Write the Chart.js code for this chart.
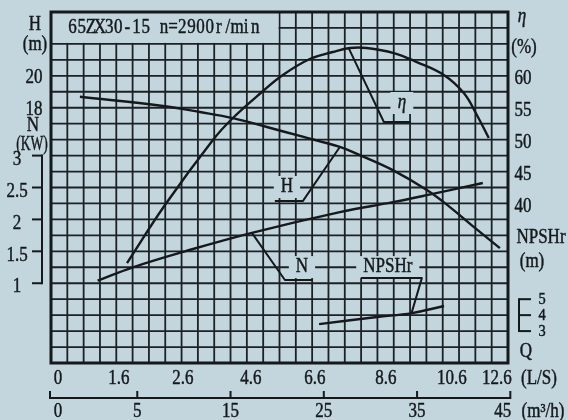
<!DOCTYPE html>
<html>
<head>
<meta charset="utf-8">
<script src="https://cdn.jsdelivr.net/npm/chart.js@4.4.1/dist/chart.umd.min.js"></script>
<style>
html, body { margin: 0; padding: 0; background: #c3d6de; }
#wrap { width: 568px; height: 420px; position: relative; }
</style>
</head>
<body>
<div id="wrap"><canvas id="pump"></canvas></div>
<script>
// 65ZX30-15 pump curves
// Q is in m3/h everywhere
// ================================================================================
let h_q = [-1.15, 7.75, 11.71, 15.25, 18.9, 22.43, 26.72, 28.86, 32.4, 36.05, 38.52, 40.97, 43.88];
let h_val = [18.69, 18.11, 17.73, 17.35, 16.79, 16.23, 15.54, 15.03, 14.09, 12.84, 11.77, 10.58, 9.2];

let eta_q = [3.9, 7.97, 13.11, 15.25, 18.36, 20.61, 23.5, 25.97, 27.79, 29.61, 32.51, 34.97, 37.87, 40.01, 41.41, 42.69];
let eta_val = [30.66, 39.75, 49.94, 53.39, 57.46, 60.13, 62.63, 63.73, 64.36, 64.36, 63.57, 62.16, 60.13, 57.3, 53.86, 50.25];

let n_q = [0.75, 4.53, 10.11, 17.29, 26.72, 32.4, 36.05, 42.05];
let n_val = [1.04, 1.25, 1.5, 1.79, 2.115, 2.27, 2.38, 2.57];

let npsh_q = [24.49, 30.71, 34.46, 37.89];
let npsh_val = [3.44, 3.88, 4.13, 4.57];

// axis labels
let h_ticks = [20, 18];
let n_ticks = [3, 2.5, 2, 1.5, 1];
let eta_ticks = [60, 55, 50, 45, 40];
let npsh_ticks = [5, 4, 3];
let q_ls_labels = ['0', '1.6', '2.6', '4.6', '6.6', '8.6', '10.6', '12.6'];
let q_ls_at = [-3.5, 3.03, 9.89, 17.18, 24.04, 31.65, 38.73, 43.55]; // where the sheet prints them (m3/h)
let q_mh_ticks = [5, 15, 25, 35, 45];

let title = '65ZX30-15 n=2900r/min';

const ink = '#15191c';
const paper = '#c3d6de';

let pts = (xs, ys) => xs.map((x, i) => ({x: x, y: ys[i]}));

// curve tags with their leader lines, in the units of each curve's axis
let curve_tags = [
	{text: 'H', axis: 'yH', at: [21.05, 13.03], path: [[19.75, 12.15], [22.75, 12.15], [26.72, 15.54]]},
	{text: 'N', axis: 'yN', at: [22.66, 1.253], path: [[17.29, 1.79], [20.83, 1.05], [23.83, 1.05]]},
	{text: 'NPSHr', axis: 'yP', at: [31.86, 7.01], path: [[28.97, 6.32], [35.51, 6.32], [34.44, 4.19]]},
	{text: 'η', axis: 'yE', at: [33.37, 55.74], path: [[27.68, 64.3], [31.44, 52.76], [34.33, 52.76]], italic: true}
];

function put_text(ctx, str, x, y, size, opts) {
	opts = opts || {};
	ctx.save();
	ctx.font = (opts.italic ? 'italic ' : '') + size + 'px "Liberation Serif", serif';
	ctx.fillStyle = ink;
	ctx.strokeStyle = ink;
	ctx.lineWidth = 0.45;
	ctx.textAlign = opts.align || 'center';
	ctx.textBaseline = 'middle';
	ctx.translate(x, y);
	ctx.scale(opts.sx || 0.85, 1);
	ctx.fillText(str, 0, 0);
	ctx.strokeText(str, 0, 0);
	ctx.restore();
}

function line(ctx, x1, y1, x2, y2, w) {
	ctx.lineWidth = w;
	ctx.beginPath();
	ctx.moveTo(x1, y1);
	ctx.lineTo(x2, y2);
	ctx.stroke();
}

let sheet = {
	id: 'sheet',
	beforeDatasetsDraw(chart) {
		let ctx = chart.ctx, a = chart.chartArea;
		let cols = 28, rows = 22;
		let cw = (a.right - a.left) / cols, rh = (a.bottom - a.top) / rows;
		ctx.save();
		ctx.strokeStyle = '#1c2124';
		for (let i = 1; i < cols; i++) line(ctx, a.left + i * cw, a.top, a.left + i * cw, a.bottom, 1.8);
		for (let j = 1; j < rows; j++) line(ctx, a.left, a.top + j * rh, a.right, a.top + j * rh, 1.8);

		// title box
		ctx.fillStyle = paper;
		ctx.fillRect(a.left + 1, a.top + 1, 14 * cw - 2, 2 * rh - 2);
		let x0 = a.left + 17, step = 9.14;
		for (let i = 0; i < title.length; i++) {
			put_text(ctx, title[i], x0 + step * i + step / 2, a.top + 16, 20, {sx: 0.85});
		}

		// clear space behind the curve tags
		ctx.font = '20px "Liberation Serif", serif';
		curve_tags.forEach(t => {
			let x = chart.scales.x.getPixelForValue(t.at[0]);
			let y = chart.scales[t.axis].getPixelForValue(t.at[1]);
			let w = ctx.measureText(t.text).width * 0.85 + 14;
			ctx.fillStyle = paper;
			ctx.fillRect(x - w / 2, y - 11, w, 22);
		});

		ctx.strokeStyle = ink;
		ctx.lineWidth = 3;
		ctx.strokeRect(a.left, a.top, a.right - a.left, a.bottom - a.top);
		ctx.restore();
	},
	afterDatasetsDraw(chart) {
		let ctx = chart.ctx, a = chart.chartArea, s = chart.scales;
		ctx.save();
		ctx.strokeStyle = ink;
		ctx.lineJoin = 'round';
		curve_tags.forEach(t => {
			let y_s = s[t.axis];
			ctx.lineWidth = 2;
			ctx.beginPath();
			t.path.forEach((p, i) => {
				let px = s.x.getPixelForValue(p[0]), py = y_s.getPixelForValue(p[1]);
				if (i === 0) ctx.moveTo(px, py); else ctx.lineTo(px, py);
			});
			ctx.stroke();
			put_text(ctx, t.text, s.x.getPixelForValue(t.at[0]), y_s.getPixelForValue(t.at[1]), 20, {italic: t.italic});
		});

		// left side: H and N
		put_text(ctx, 'H', a.left - 16, 25, 20);
		put_text(ctx, '(m)', a.left - 16, 45, 20);
		h_ticks.forEach(v => put_text(ctx, String(v), a.left - 17, s.yH.getPixelForValue(v) + 2, 20));
		put_text(ctx, 'N', a.left - 18, 126, 20);
		put_text(ctx, '(KW)', a.left - 19, 145, 20, {sx: 0.68});
		let n_top = s.yN.getPixelForValue(n_ticks[0]);
		let n_bot = s.yN.getPixelForValue(n_ticks[n_ticks.length - 1]);
		line(ctx, a.left - 9, n_top - 1, a.left - 9, n_bot + 1, 2);
		n_ticks.forEach(v => {
			let y = s.yN.getPixelForValue(v);
			line(ctx, a.left - 19, y, a.left - 9, y, 2);
			put_text(ctx, String(v), 17, y + 4, 20);
		});

		// right side: eta and NPSHr
		put_text(ctx, 'η', a.right + 14, 17, 20, {italic: true});
		put_text(ctx, '(%)', a.right + 16, 48, 20);
		eta_ticks.forEach(v => put_text(ctx, String(v), a.right + 15, s.yE.getPixelForValue(v) + 3, 20));
		put_text(ctx, 'NPSHr', a.right + 33, 238, 20);
		put_text(ctx, '(m)', a.right + 24, 262, 20);
		let p_top = s.yP.getPixelForValue(npsh_ticks[0]);
		let p_bot = s.yP.getPixelForValue(npsh_ticks[npsh_ticks.length - 1]);
		line(ctx, a.right + 11, p_top - 1, a.right + 11, p_bot + 1, 2);
		npsh_ticks.forEach(v => {
			let y = s.yP.getPixelForValue(v);
			line(ctx, a.right + 11, y, a.right + 23, y, 2);
			put_text(ctx, String(v), a.right + 34, y + 1, 16, {sx: 0.9});
		});

		// bottom: Q in L/S and m3/h
		put_text(ctx, 'Q', a.right + 18, 352, 20);
		q_ls_labels.forEach((t, i) => put_text(ctx, t, s.x.getPixelForValue(q_ls_at[i]), a.bottom + 16, 20));
		put_text(ctx, '(L/S)', a.right + 31, a.bottom + 16, 20);
		let ay = a.bottom + 35;
		let x_end = s.x.getPixelForValue(q_mh_ticks[q_mh_ticks.length - 1]);
		line(ctx, a.left - 1, ay, x_end, ay, 2);
		line(ctx, a.left - 1, ay - 7, a.left - 1, ay + 1, 2);
		put_text(ctx, '0', a.left + 7, ay + 14, 20);
		q_mh_ticks.forEach((v, i) => {
			let x = s.x.getPixelForValue(v);
			line(ctx, x, ay - 7, x, ay + 1, 2);
			let last = i === q_mh_ticks.length - 1;
			put_text(ctx, String(v), last ? x + 1 : x, ay + 14, 20, {align: last ? 'right' : 'center'});
		});
		put_text(ctx, '(m³/h)', a.right + 35, ay + 14, 20);
		ctx.restore();
	}
};

let curve_style = {
	showLine: true,
	borderColor: ink,
	borderWidth: 2.4,
	pointRadius: 0,
	tension: 0.4,
	fill: false
};

let pump_chart = new Chart(document.getElementById('pump'), {
	type: 'scatter',
	data: {
		datasets: [
			Object.assign({label: 'H', data: pts(h_q, h_val), yAxisID: 'yH'}, curve_style),
			Object.assign({label: 'η', data: pts(eta_q, eta_val), yAxisID: 'yE'}, curve_style),
			Object.assign({label: 'N', data: pts(n_q, n_val), yAxisID: 'yN'}, curve_style),
			Object.assign({label: 'NPSHr', data: pts(npsh_q, npsh_val), yAxisID: 'yP'}, curve_style)
		]
	},
	options: {
		responsive: true,
		maintainAspectRatio: false,
		animation: false,
		layout: {padding: {left: 51, right: 60, top: 12, bottom: 57}},
		plugins: {legend: {display: false}, tooltip: {enabled: false}},
		scales: {
			x: {type: 'linear', min: -4.25, max: 44.75, display: false},
			yH: {type: 'linear', min: 2, max: 24, display: false},
			yN: {type: 'linear', min: -0.25, max: 5.25, display: false},
			yE: {type: 'linear', min: 15, max: 70, display: false},
			yP: {type: 'linear', min: 1, max: 23, display: false}
		}
	},
	plugins: [sheet]
});
</script>
</body>
</html>
